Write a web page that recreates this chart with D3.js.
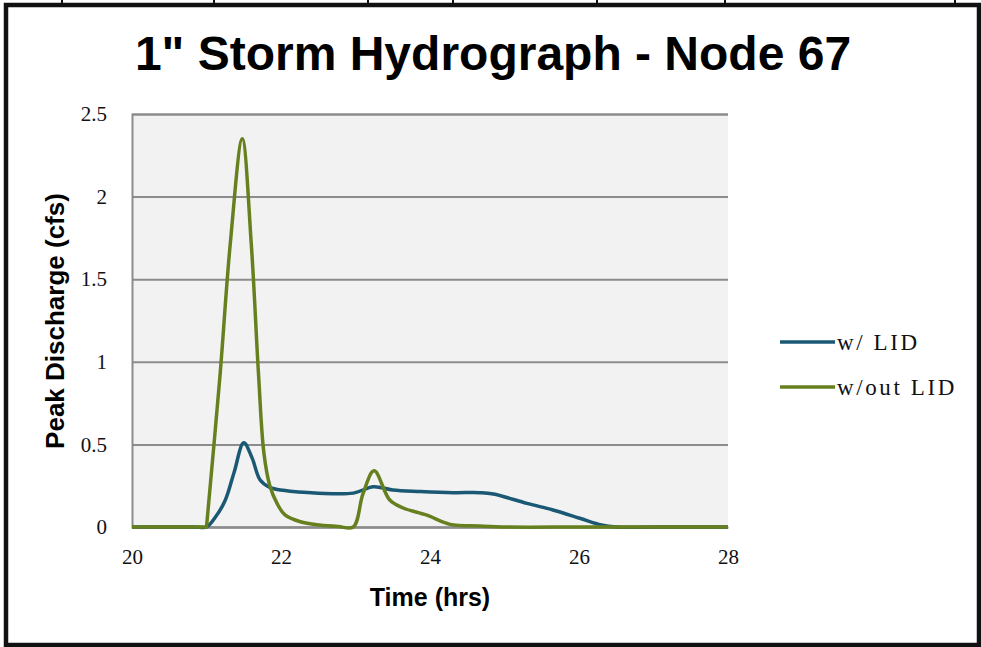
<!DOCTYPE html>
<html lang="en">
<head>
    <meta charset="UTF-8">
    <title>1" Storm Hydrograph - Node 67</title>
    <script src="https://unpkg.com/d3@7.8.5/dist/d3.min.js"></script>
    <style>
        * { margin: 0; padding: 0; box-sizing: border-box; }
        body { background: #fff; }
        svg { display: block; }
    </style>
</head>
<body>
    <svg id="chart" width="981" height="647"></svg>
    <script>
        // 数据
        const lidTime = [20, 20.5, 20.85, 21.0, 21.12, 21.25, 21.37, 21.5, 21.61, 21.72, 21.85, 22.03, 22.5, 22.97, 23.24, 23.5, 23.87, 24.31, 24.67, 24.85, 25.3, 25.65, 26.01, 26.3, 26.5, 27, 28]
        const lidFlow = [0, 0, 0, 0, 0.06, 0.16, 0.33, 0.51, 0.42, 0.285, 0.24, 0.222, 0.205, 0.205, 0.244, 0.224, 0.215, 0.208, 0.208, 0.2, 0.143, 0.103, 0.053, 0.012, 0, 0, 0]

        // 21.0 listed twice: the rise starts from a sharp corner
        const noLidTime = [20, 20.5, 21.0, 21.0, 21.18, 21.32, 21.48, 21.6, 21.7, 21.77, 21.85, 21.95, 22.05, 22.26, 22.52, 22.77, 22.97, 23.1, 23.25, 23.46, 23.64, 23.95, 24.27, 24.67, 25.03, 26, 27, 28]
        const noLidFlow = [0, 0, 0, 0, 0.91, 1.72, 2.35, 1.72, 0.91, 0.45, 0.25, 0.14, 0.075, 0.032, 0.012, 0.003, 0, 0.2, 0.34, 0.163, 0.115, 0.073, 0.016, 0.006, 0, 0, 0, 0]

        const seriesNames = ['w/ LID', 'w/out LID']
        const xTicks = [20, 22, 24, 26, 28]
        const yTicks = [0, 0.5, 1, 1.5, 2, 2.5]

        const colors = ['#1b5873', '#67801f']

        const svg = d3.select('#chart')

        // 外框
        svg.append('rect')
            .attr('x', 6).attr('y', 5)
            .attr('width', 973).attr('height', 640)
            .attr('fill', 'none')
            .attr('stroke', '#111')
            .attr('stroke-width', 4.5)

        // top edge bits of the page table
        ;[62, 214, 368, 453, 597, 725, 955].forEach(x => {
            svg.append('line')
                .attr('x1', x).attr('x2', x)
                .attr('y1', 0).attr('y2', 4)
                .attr('stroke', '#111').attr('stroke-width', 2)
        })

        const x = d3.scaleLinear().domain([20, 28]).range([132, 728])
        const y = d3.scaleLinear().domain([0, 2.5]).range([527, 114])

        // 绘图区背景
        svg.append('rect')
            .attr('x', x(20)).attr('y', y(2.5))
            .attr('width', x(28) - x(20)).attr('height', y(0) - y(2.5))
            .attr('fill', '#f2f2f2')

        // 网格线
        const yAxis = svg.append('g')
            .attr('transform', `translate(${x(20)},0)`)
            .call(d3.axisLeft(y).tickValues(yTicks).tickSize(-(x(28) - x(20))).tickPadding(25).tickFormat(d3.format('')))
        yAxis.select('.domain').attr('stroke', '#8c8c8c').attr('stroke-width', 2)
        yAxis.selectAll('.tick line').attr('stroke', '#8c8c8c').attr('stroke-width', 2)
        yAxis.selectAll('.tick text')
            .attr('font-family', '"Liberation Serif", serif')
            .attr('font-size', 21)
            .attr('fill', '#111')

        const xAxis = svg.append('g')
            .attr('transform', `translate(0,${y(0)})`)
            .call(d3.axisBottom(x).tickValues(xTicks).tickSize(0).tickPadding(22))
        xAxis.select('.domain').attr('stroke', '#8c8c8c').attr('stroke-width', 2)
        xAxis.selectAll('.tick text')
            .attr('font-family', '"Liberation Serif", serif')
            .attr('font-size', 21)
            .attr('fill', '#111')

        // 曲线
        const line = d3.line()
            .x(d => x(d[0]))
            .y(d => y(d[1]))
            .curve(d3.curveCatmullRom.alpha(0.5))

        const series = [
            d3.zip(lidTime, lidFlow),
            d3.zip(noLidTime, noLidFlow)
        ]

        series.forEach((s, i) => {
            svg.append('path')
                .datum(s)
                .attr('d', line)
                .attr('fill', 'none')
                .attr('stroke', colors[i])
                .attr('stroke-width', 3.5)
                .attr('stroke-linejoin', 'round')
        })

        // 标题
        svg.append('text')
            .attr('x', 493).attr('y', 70)
            .attr('text-anchor', 'middle')
            .attr('font-family', '"Liberation Sans", Arial, sans-serif')
            .attr('font-weight', 'bold')
            .attr('font-size', 48)
            .text('1" Storm Hydrograph - Node 67')

        svg.append('text')
            .attr('x', 430).attr('y', 606)
            .attr('text-anchor', 'middle')
            .attr('font-family', '"Liberation Sans", Arial, sans-serif')
            .attr('font-weight', 'bold')
            .attr('font-size', 25)
            .text('Time (hrs)')

        svg.append('text')
            .attr('transform', 'translate(64,321) rotate(-90)')
            .attr('text-anchor', 'middle')
            .attr('font-family', '"Liberation Sans", Arial, sans-serif')
            .attr('font-weight', 'bold')
            .attr('font-size', 26)
            .text('Peak Discharge (cfs)')

        // 图例
        const legend = svg.append('g')
        seriesNames.forEach((name, i) => {
            const ly = 342 + i * 45
            legend.append('line')
                .attr('x1', 780).attr('x2', 835)
                .attr('y1', ly).attr('y2', ly)
                .attr('stroke', colors[i])
                .attr('stroke-width', 3.5)
            legend.append('text')
                .attr('x', 837).attr('y', ly + 8)
                .attr('font-family', '"Liberation Serif", serif')
                .attr('font-size', 23)
                .attr('letter-spacing', 2.6)
                .attr('fill', '#111')
                .text(name)
        })
    </script>
</body>
</html>
